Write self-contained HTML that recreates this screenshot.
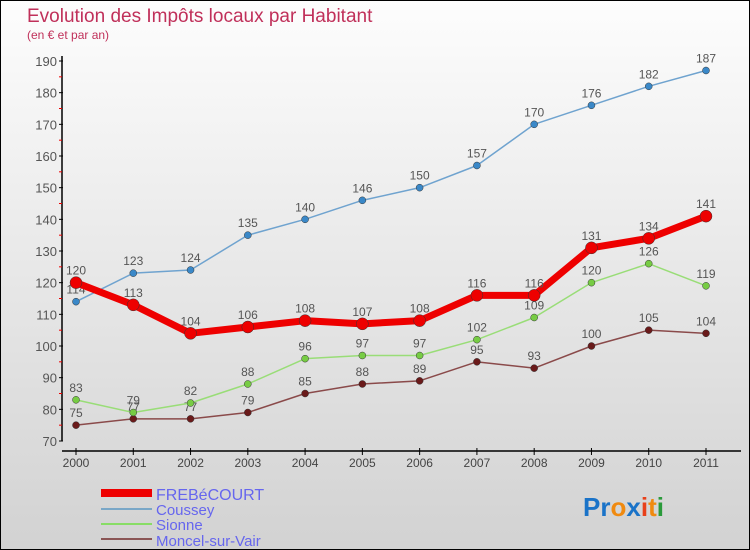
<!DOCTYPE html>
<html><head><meta charset="utf-8"><style>
body{margin:0}
#c{width:750px;height:550px;position:relative;background:linear-gradient(#fdfdfd,#d2d2d2);border:1px solid #000;box-sizing:border-box;overflow:hidden;font-family:"Liberation Sans",sans-serif}
</style></head><body>
<div id="c">
<svg id="s" width="750" height="550" style="position:absolute;left:0;top:0">
<text x="26" y="21" font-size="19" fill="#c0305a">Evolution des Impôts locaux par Habitant</text>
<text x="26" y="38" font-size="12" fill="#c0305a">(en € et par an)</text>
<g id="axes"></g><g id="series"></g>
<g>
<line x1="100" y1="492" x2="151" y2="492" stroke="#e00" stroke-width="8"/>
<text x="155" y="499" font-size="16" fill="#6666ee">FREBéCOURT</text>
<line x1="100" y1="508" x2="151" y2="508" stroke="#7aa7c7" stroke-width="2"/>
<text x="155" y="514" font-size="15" fill="#6666ee">Coussey</text>
<line x1="100" y1="523" x2="151" y2="523" stroke="#88dd66" stroke-width="2"/>
<text x="155" y="529" font-size="15" fill="#6666ee">Sionne</text>
<line x1="100" y1="538" x2="151" y2="538" stroke="#8a5555" stroke-width="2"/>
<text x="155" y="545" font-size="15" fill="#6666ee">Moncel-sur-Vair</text>
</g>
<g font-size="26" font-weight="bold">
<text x="582" y="515"><tspan fill="#1a73c8">Pr</tspan><tspan fill="#f08a10">o</tspan><tspan fill="#1a73c8">x</tspan><tspan fill="#e8401a">i</tspan><tspan fill="#f08a10">t</tspan><tspan fill="#2a9a3a">i</tspan></text>
</g>
</svg>
</div>
<script>
const years=[2000,2001,2002,2003,2004,2005,2006,2007,2008,2009,2010,2011];
const yTicks=[70,80,90,100,110,120,130,140,150,160,170,180,190];
const frebecourt=[120,113,104,106,108,107,108,116,116,131,134,141];
const coussey=[114,123,124,135,140,146,150,157,170,176,182,187];
const sionne=[83,79,82,88,96,97,97,102,109,120,126,119];
const moncel=[75,77,77,79,85,88,89,95,93,100,105,104];
const NS="http://www.w3.org/2000/svg";
const X=i=>75+i*(630/11);
const Y=v=>440-(v-70)*(380/120);
function mk(t,a,p){const e=document.createElementNS(NS,t);for(const k in a)e.setAttribute(k,a[k]);p.appendChild(e);return e;}
const ax=document.getElementById('axes');
mk('line',{x1:61,y1:55,x2:61,y2:440,stroke:'#000','stroke-width':1.5},ax);
mk('line',{x1:61,y1:450,x2:740,y2:450,stroke:'#000','stroke-width':1.5},ax);
yTicks.forEach(v=>{
 mk('line',{x1:58,y1:Y(v),x2:62,y2:Y(v),stroke:'#000'},ax);
 if(v<190)mk('line',{x1:58,y1:Y(v+5),x2:61,y2:Y(v+5),stroke:'#e00'},ax);
 const t=mk('text',{x:56,y:Y(v)+5,'font-size':13,fill:'#555','text-anchor':'end'},ax);
 
 
 t.textContent=v;
});
years.forEach((yr,i)=>{
 mk('line',{x1:X(i),y1:447,x2:X(i),y2:454,stroke:'#000'},ax);
 const t=mk('text',{x:X(i),y:466,'font-size':12,fill:'#444','text-anchor':'middle'},ax);
 
 
 t.textContent=yr;
});
const sg=document.getElementById('series');
function draw(name,data,color,dot,w,r){
 const g=mk('g',{},sg);
 
 
 mk('polyline',{points:data.map((v,i)=>X(i)+','+Y(v)).join(' '),fill:'none',stroke:color,'stroke-width':w,'stroke-linejoin':'round'},g);
 data.forEach((v,i)=>{
  const c=mk('circle',{cx:X(i),cy:Y(v),r:r,fill:dot,stroke:'#333','stroke-width':0.5},g);
  
  
  const t=mk('text',{x:X(i),y:Y(v)-8,'font-size':12,fill:'#555','text-anchor':'middle'},g);
  
  
  t.textContent=v;
 });
}
draw('moncel',moncel,'#8a4a4a','#6a1a1a',1.5,3.5);
draw('sionne',sionne,'#99dd77','#77cc44',1.5,3.5);
draw('coussey',coussey,'#6fa3cf','#3a88c8',1.5,3.5);
draw('frebecourt',frebecourt,'#ee0000','#ee0000',7,6);
</script>
</body></html>
